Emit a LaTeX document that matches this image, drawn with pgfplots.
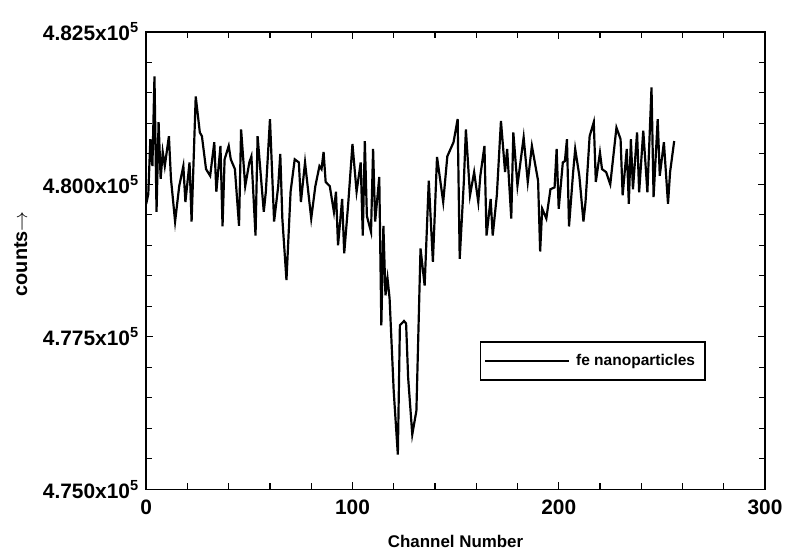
\documentclass[border=0pt]{standalone}
\usepackage{fontspec}
\setmainfont{Liberation Sans}
\usepackage{pgfplots}
\pgfplotsset{compat=1.18}

% spectrum: channel, counts
\pgfplotstableread{
ch  cnt
0   479680
1   479840
2   480740
3   480300
4   481770
5   479550
6   481020
7   480090
8   480530
9   480300
11  480790
12  480090
14  479390
16  479970
18  480300
19  479710
21  480360
22  479390
24  481440
26  480850
27  480790
29  480250
31  480140
33  480690
34  479880
36  480630
37  479310
38  480410
40  480630
41  480410
43  480250
45  479320
46  480900
48  479970
50  480360
51  480460
53  479160
54  480790
57  479550
58  479880
60  481070
62  479390
64  479970
65  480500
66  479440
68  478430
70  479880
72  480410
74  480360
75  479710
77  480360
80  479440
82  479970
84  480300
85  480250
86  480530
87  480040
89  479970
91  479550
92  479880
93  479000
95  479760
96  478870
98  479710
100 480660
102 479880
104 480360
105 479160
106 480710
107 479480
109 479220
110 480580
111 479390
113 480120
114 477690
115 479320
116 478180
117 478460
118 478130
120 476610
122 475570
123 477690
125 477760
126 477720
127 476830
129 475900
131 476290
133 478950
135 478340
137 480060
139 478730
141 480450
144 479710
146 480460
149 480690
151 481070
152 478780
154 480040
155 480900
157 479820
159 480200
161 479710
162 480140
164 480630
165 479160
167 479760
168 479160
170 479820
172 481040
174 480200
175 480580
177 479440
178 480850
180 479980
183 480770
185 480040
187 480630
190 480060
191 478900
192 479600
194 479440
196 479920
198 479950
199 480580
200 479600
202 480360
203 480380
204 480740
205 479310
207 480200
208 480580
210 480140
212 479390
213 479710
215 480790
217 481020
218 480040
220 480520
221 480250
223 480200
225 480000
228 480930
230 480740
231 479820
233 480580
234 479680
235 480740
236 479920
238 480850
239 479870
241 480880
243 479870
245 481590
246 479790
248 481070
249 480140
251 480690
253 479680
254 480200
256 480710
}\spectrum

\begin{document}
\begin{tikzpicture}
\begin{axis}[
  name=ax,
  scale only axis,
  width=311pt, height=230pt,
  xmin=0, xmax=300, ymin=475000, ymax=482500,
  xtick={0,100,200,300}, minor x tick num=4,
  ytick={475000,477500,480000,482500}, minor y tick num=4,
  yticklabels={4.750x10\textsuperscript{5},4.775x10\textsuperscript{5},4.800x10\textsuperscript{5},4.825x10\textsuperscript{5}},
  scaled y ticks=false,
  /pgf/number format/assume math mode=true,
  tick align=inside,
  major tick length=3.5pt, minor tick length=3pt,
  every tick/.style={black, line width=0.6pt},
  axis line style={line width=0.9pt},
  tick label style={font=\bfseries\fontsize{10.5}{12}\selectfont},
  xticklabel style={yshift=-2pt},
  xlabel={Channel Number},
  ylabel={counts$\rightarrow$},
  xlabel style={font=\bfseries\fontsize{8.5}{10}\selectfont,
    at={(axis description cs:0.5,-0.113)}, anchor=center},
  ylabel style={font=\bfseries\fontsize{10}{12}\selectfont,
    at={(axis description cs:-0.203,0.515)}, anchor=center, rotate=0},
  legend style={at={(0.539,0.324)}, anchor=north west, draw=black, line width=0.7pt,
    inner xsep=2pt, inner ysep=3pt, font=\bfseries\fontsize{7.8}{9}\selectfont,
    nodes={inner sep=3pt}},
  legend image code/.code={\path (-8pt,0pt) -- (34pt,0pt);
    \draw[#1] (0pt,0pt) -- (28pt,0pt);},
]
\addplot[black, line width=1.1pt, mark=none] table[x=ch, y=cnt] {\spectrum};
\addlegendentry{fe nanoparticles}
\end{axis}
\path ([xshift=-73.5pt,yshift=-30.5pt]ax.south west) rectangle ([xshift=10pt,yshift=16pt]ax.north east);
\end{tikzpicture}
\end{document}
